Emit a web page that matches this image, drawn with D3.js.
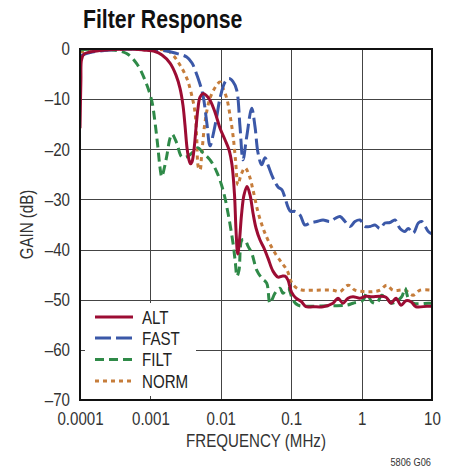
<!DOCTYPE html>
<html>
<head>
<meta charset="utf-8">
<script src="https://cdn.jsdelivr.net/npm/d3@7"></script>
<style>
  html, body { margin: 0; padding: 0; background: #fff; }
  svg { display: block; }
  text { font-family: "Liberation Sans", Arial, Helvetica, sans-serif; fill: #222; }
</style>
</head>
<body>
<svg id="chart" width="458" height="471"></svg>
<script>
// ---- data (frequency in MHz, gain in dB) ----
const seriesNames = ["ALT", "FAST", "FILT", "NORM"];
const xTickValues = [0.0001, 0.001, 0.01, 0.1, 1, 10];
const xTickLabels = ["0.0001", "0.001", "0.01", "0.1", "1", "10"];
const yTickValues = [0, -10, -20, -30, -40, -50, -60, -70];
const yTickLabels = ["0", "\u201310", "\u201320", "\u201330", "\u201340", "\u201350", "\u201360", "\u201370"];

const altFreq = [1e-4, 1.03e-4, 1.05e-4, 1.14e-4, 1.39e-4, 1.92e-4, 2.94e-4, 5.13e-4, 7.85e-4, 1.16e-3, 1.46e-3, 1.90e-3, 2.31e-3, 2.63e-3, 2.90e-3, 3.10e-3, 3.31e-3, 3.53e-3, 3.71e-3, 3.90e-3, 4.16e-3, 4.44e-3, 4.74e-3, 5.07e-3, 5.58e-3, 6.16e-3, 7.03e-3, 8.27e-3, 9.75e-3, 0.01147, 0.01307, 0.01442, 0.01566, 0.01644, 0.01738, 0.01844, 0.01968, 0.02136, 0.02356, 0.026, 0.02866, 0.03162, 0.03606, 0.04109, 0.0468, 0.0551, 0.06494, 0.07396, 0.08166, 0.0901, 0.101, 0.117, 0.1378, 0.1622, 0.204, 0.283, 0.3924, 0.4624, 0.5445, 0.641, 0.755, 0.949, 1.155, 1.405, 1.825, 2.22, 2.62, 3.08, 3.63, 4.27, 5.03, 5.93, 8.49, 10];
const altGain = [-15.8, -6.2, -2.2, -1.0, -0.6, -0.3, -0.1, 0, -0.2, -0.5, -1.2, -2.8, -5.2, -7.8, -11.2, -15.2, -19.7, -22.1, -22.9, -22.5, -20.1, -15.8, -11.8, -9.6, -8.9, -9.2, -10.2, -12.6, -15.8, -18.1, -20.1, -23.1, -29.1, -36.1, -40.9, -38.1, -33.1, -29.1, -27.4, -29.1, -32.7, -35.7, -38.1, -39.7, -41.7, -44.3, -45.5, -45.3, -45.3, -46.1, -48.5, -49.7, -50.3, -51.4, -51.4, -51.4, -50.7, -49.7, -50.7, -49.7, -49.4, -49.7, -49.3, -49.4, -49.3, -49.5, -50.7, -49.7, -51.1, -50.2, -50.4, -51.4, -51.3, -51.3];

const fastFreq = [1e-4, 1.39e-4, 2.67e-4, 7.11e-4, 1.37e-3, 2.24e-3, 3.28e-3, 3.90e-3, 4.74e-3, 5.58e-3, 6.31e-3, 7.03e-3, 7.75e-3, 8.75e-3, 9.75e-3, 0.01147, 0.01307, 0.0149, 0.01683, 0.01874, 0.02066, 0.02333, 0.02748, 0.03062, 0.03375, 0.03811, 0.04245, 0.0473, 0.0551, 0.06494, 0.07396, 0.08166, 0.091, 0.0985, 0.1132, 0.1334, 0.1571, 0.1849, 0.2303, 0.283, 0.3558, 0.419, 0.4933, 0.5808, 0.6839, 0.8054, 0.949, 1.117, 1.316, 1.549, 1.825, 2.149, 2.531, 2.98, 3.51, 4.133, 4.605, 5.422, 6.385, 7.142, 8.858, 10];
const fastGain = [-1.4, -0.7, -0.2, 0, -0.2, -0.8, -1.6, -2.8, -5.8, -9.2, -14.6, -19.3, -17.2, -13.5, -9.8, -6.6, -5.9, -6.5, -8.2, -15.5, -22.1, -17.5, -11.8, -15.5, -20.7, -23.1, -21.7, -23.3, -25.7, -27.5, -28.1, -29.7, -31.7, -32.4, -32.4, -33.1, -35.1, -34.7, -34.4, -34.1, -34.4, -33.8, -33.4, -34.4, -35.4, -34.4, -34.1, -35.4, -35.4, -35.1, -35.8, -34.7, -34.6, -34.1, -35.8, -36.4, -35.8, -36.7, -34.7, -34.4, -36.4, -36.9];

const filtFreq = [1e-4, 1.63e-4, 2.94e-4, 4.61e-4, 6.39e-4, 8.38e-4, 1.04e-3, 1.16e-3, 1.28e-3, 1.37e-3, 1.45e-3, 1.53e-3, 1.70e-3, 1.90e-3, 2.03e-3, 2.36e-3, 2.78e-3, 3.28e-3, 4.07e-3, 4.74e-3, 5.58e-3, 7.03e-3, 8.75e-3, 0.01074, 0.01265, 0.0149, 0.01607, 0.01699, 0.01814, 0.02, 0.02207, 0.02433, 0.02748, 0.03236, 0.03811, 0.04487, 0.05, 0.05888, 0.06934, 0.0765, 0.0901, 0.1061, 0.1249, 0.1849, 0.3558, 0.6138, 0.755, 1.047, 1.181, 1.391, 1.639, 1.93, 2.273, 2.677, 3.712, 4.133, 4.605, 5.422, 8.858, 10];
const filtGain = [-0.2, 0, -0.2, -0.9, -2.9, -6.2, -10.2, -14.5, -19.7, -23.7, -25.5, -24.5, -21.5, -17.8, -17.0, -18.7, -21.5, -21.5, -20.5, -19.7, -20.7, -22.1, -24.5, -28.1, -32.7, -38.7, -42.5, -45.3, -44.1, -38.1, -38.1, -39.3, -40.7, -44.1, -45.7, -46.7, -50.7, -48.7, -47.7, -48.7, -47.7, -50.1, -51.1, -51.3, -51.2, -51.1, -50.7, -50.1, -48.7, -50.4, -50.7, -49.1, -49.7, -50.7, -49.4, -47.7, -49.7, -50.7, -50.7, -50.7];

const normFreq = [1e-4, 1.39e-4, 3.70e-4, 1.09e-3, 1.70e-3, 2.09e-3, 2.63e-3, 3.28e-3, 3.86e-3, 4.30e-3, 4.55e-3, 4.82e-3, 5.07e-3, 5.35e-3, 5.97e-3, 7.03e-3, 8.75e-3, 9.75e-3, 0.01074, 0.01213, 0.01351, 0.0149, 0.01618, 0.01754, 0.01936, 0.02207, 0.02515, 0.02866, 0.03375, 0.03974, 0.0468, 0.05888, 0.07396, 0.08717, 0.1026, 0.1209, 0.1471, 0.204, 0.3924, 0.4933, 0.647, 0.8054, 1.117, 1.452, 1.825, 2.273, 2.793, 4.133, 5.37, 6.758, 10];
const normGain = [-0.6, -0.4, -0.1, -0.1, -0.3, -1.2, -3.2, -5.8, -9.2, -12.6, -17.8, -23.7, -24.1, -21.1, -14.6, -9.8, -7.2, -6.6, -7.8, -9.8, -13.2, -17.2, -22.1, -27.1, -25.1, -23.7, -25.1, -28.1, -32.5, -35.7, -38.1, -40.7, -42.7, -44.1, -46.7, -47.7, -48.1, -48.1, -48.1, -48.4, -47.1, -48.1, -48.4, -48.4, -48.1, -47.1, -48.1, -48.1, -49.1, -48.1, -48.1];

// ---- styles ----
const colors = { ALT: "#9c0c33", FAST: "#3b58a8", FILT: "#2f8a48", NORM: "#c67d3b" };
const dashes = { ALT: null, FAST: "16,5", FILT: "9,5", NORM: "4,4" };

const series = [
  { name: "NORM", freq: normFreq, gain: normGain },
  { name: "FILT", freq: filtFreq, gain: filtGain },
  { name: "FAST", freq: fastFreq, gain: fastGain },
  { name: "ALT", freq: altFreq, gain: altGain }
];

(function () {
const svg = d3.select("#chart");
const pL = 80, pR = 432, pT = 49, pB = 400;
const SX = 0.84; // condensed look

const x = d3.scaleLog().domain([1e-4, 10]).range([pL, pR]);
const y = d3.scaleLinear().domain([-70, 0]).range([pB, pT]);

function label(g, tx, ty, txt, size, opts) {
  opts = opts || {};
  const t = g.append("text")
    .attr("transform", `translate(${tx},${ty})${opts.rotate ? " rotate(" + opts.rotate + ")" : ""} scale(${opts.sx || SX},1)`)
    .attr("text-anchor", opts.anchor || "start")
    .style("font-size", size + "px")
    .style("fill", opts.fill || "#333")
    .text(txt);
  if (opts.bold) t.style("font-weight", "bold");
  return t;
}

// title
label(svg, 83, 28, "Filter Response", 25, { bold: true, fill: "#111", sx: 0.85 });

// grid
const grid = svg.append("g").attr("stroke", "#444").attr("stroke-width", 1);
xTickValues.forEach(v => {
  grid.append("line").attr("x1", Math.round(x(v)) + 0.5).attr("x2", Math.round(x(v)) + 0.5)
    .attr("y1", pT).attr("y2", pB);
});
yTickValues.forEach(v => {
  grid.append("line").attr("y1", Math.round(y(v)) + 0.5).attr("y2", Math.round(y(v)) + 0.5)
    .attr("x1", pL).attr("x2", pR);
});

// axes tick labels via d3 axes
const xAxis = d3.axisBottom(x).tickValues(xTickValues).tickSize(0).tickPadding(0)
  .tickFormat((d, i) => xTickLabels[i]);
const gx = svg.append("g").attr("transform", `translate(0,${pB + 12})`).call(xAxis);
gx.select(".domain").remove();
gx.attr("font-family", null).attr("font-size", null);
gx.selectAll("text").style("font-size", "18px").style("fill", "#333").attr("dy", "0.71em")
  .attr("transform", `scale(${SX},1)`);

const yAxis = d3.axisLeft(y).tickValues(yTickValues).tickSize(0).tickPadding(0)
  .tickFormat((d, i) => yTickLabels[i]);
const gy = svg.append("g").attr("transform", `translate(${pL - 10},0)`).call(yAxis);
gy.select(".domain").remove();
gy.attr("font-family", null).attr("font-size", null);
gy.selectAll("text").style("font-size", "18px").style("fill", "#333")
  .attr("transform", `scale(${SX},1)`);

// axis titles
label(svg, (pL + pR) / 2, 447, "FREQUENCY (MHz)", 18, { anchor: "middle" });
label(svg, 33, (pT + pB) / 2, "GAIN (dB)", 18, { anchor: "middle", rotate: -90 });
label(svg, 431, 466, "5806 G06", 11, { anchor: "end" });

// clip
svg.append("clipPath").attr("id", "plotclip").append("rect")
  .attr("x", pL).attr("y", pT).attr("width", pR - pL).attr("height", pB - pT);

const line = d3.line()
  .x(d => x(d[0])).y(d => y(d[1]))
  .curve(d3.curveCatmullRom.alpha(0.5));

const plot = svg.append("g").attr("clip-path", "url(#plotclip)");
series.forEach(s => {
  const pts = s.freq.map((f, i) => [f, s.gain[i]]);
  plot.append("path").datum(pts)
    .attr("d", line)
    .attr("fill", "none")
    .attr("stroke", colors[s.name])
    .attr("stroke-width", 3)
    .attr("stroke-dasharray", dashes[s.name])
    .attr("stroke-linejoin", "round");
});

// legend
const lg = svg.append("g");
lg.append("rect").attr("x", 85).attr("y", 303).attr("width", 111).attr("height", 93).attr("fill", "#fff");
const legendY = [317, 338, 359.5, 381];
seriesNames.forEach((n, i) => {
  lg.append("line").attr("x1", 95).attr("x2", 133).attr("y1", legendY[i]).attr("y2", legendY[i])
    .attr("stroke", colors[n]).attr("stroke-width", 3).attr("stroke-dasharray", dashes[n]);
  label(lg, 142, legendY[i] + 6.5, n, 18, { fill: "#222" });
});

// frame
svg.append("rect").attr("x", pL).attr("y", pT).attr("width", pR - pL).attr("height", pB - pT)
  .attr("fill", "none").attr("stroke", "#111").attr("stroke-width", 2);
})();
</script>
</body>
</html>
